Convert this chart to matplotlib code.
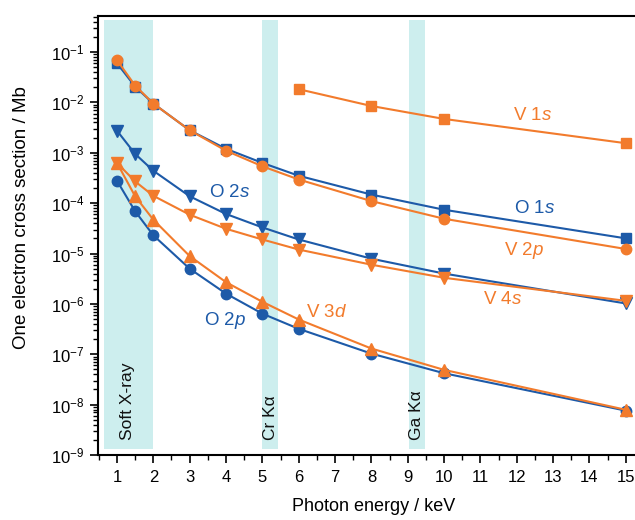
import matplotlib
matplotlib.use("Agg")
import matplotlib.pyplot as plt
from matplotlib.ticker import LogLocator, MultipleLocator, LogFormatterSciNotation, NullFormatter

plt.rcParams['font.family'] = ['Liberation Sans', 'DejaVu Sans']
plt.rcParams['mathtext.fontset'] = 'custom'
plt.rcParams['mathtext.rm'] = 'Liberation Sans'
plt.rcParams['mathtext.it'] = 'Liberation Sans:italic'

# Photon energies (keV)
energy = [1, 1.5, 2, 3, 4, 5, 6, 8, 10, 15]
energy_v1s = [6, 8, 10, 15]

# Cross sections (Mb)
o1s = [0.060, 0.0206, 0.0095, 0.0028, 0.0012, 6.3e-4, 3.5e-4, 1.48e-4, 7.4e-5, 2.0e-5]
v2p = [0.069, 0.0216, 0.0095, 0.0028, 0.0011, 5.4e-4, 2.95e-4, 1.10e-4, 4.9e-5, 1.23e-5]
v1s = [0.0183, 0.0085, 0.0047, 0.00155]
o2s = [2.75e-3, 9.5e-4, 4.4e-4, 1.37e-4, 6.1e-5, 3.3e-5, 1.9e-5, 7.9e-6, 4.0e-6, 1.02e-6]
v4s = [6.3e-4, 2.7e-4, 1.4e-4, 5.9e-5, 3.1e-5, 1.9e-5, 1.2e-5, 6.0e-6, 3.3e-6, 1.15e-6]
v3d = [6.3e-4, 1.37e-4, 4.7e-5, 8.9e-6, 2.7e-6, 1.1e-6, 4.9e-7, 1.3e-7, 4.9e-8, 7.9e-9]
o2p = [2.79e-4, 6.9e-5, 2.3e-5, 5.0e-6, 1.6e-6, 6.4e-7, 3.2e-7, 1.03e-7, 4.2e-8, 7.6e-9]

# Shaded bands (keV) and their labels
bands = [(0.64, 1.98), (5.0, 5.44), (9.03, 9.47)]
band_labels = ["Soft X-ray", "Cr K\u03b1", "Ga K\u03b1"]
band_label_x = [1.29, 5.22, 9.25]

# Curve labels: (text, x, y, colour key)
curve_labels = [
    (r'O 2$\it{s}$', 4.1, 1.6e-4, 'b'),
    (r'V 1$\it{s}$', 12.44, 5.4e-3, 'o'),
    (r'O 1$\it{s}$', 12.48, 8.0e-5, 'b'),
    (r'V 2$\it{p}$', 12.2, 1.15e-5, 'o'),
    (r'V 4$\it{s}$', 11.6, 1.2e-6, 'o'),
    (r'V 3$\it{d}$', 6.76, 6.7e-7, 'o'),
    (r'O 2$\it{p}$', 3.97, 4.7e-7, 'b'),
]

blue = '#1d5aa8'
orange = '#f27b2c'
band_color = '#cdeeee'
cmap = {'b': blue, 'o': orange}

fig = plt.figure(figsize=(6.35, 5.2), dpi=100)
ax = fig.add_axes([98/635, 1-455/520, (644-98)/635, (455-16)/520])
ax.set_yscale('log')
ax.set_xlim(0.478, 15.5)
ax.set_ylim(1e-9, 0.52)

for (x0, x1) in bands:
    ax.fill_between([x0, x1], [1.32e-9, 1.32e-9], [0.43, 0.43], color=band_color, lw=0, zorder=0)
for lab, bx in zip(band_labels, band_label_x):
    ax.text(bx, 2.0e-9, lab, rotation=90, ha='center', va='bottom', fontsize=12.5, color='#111111', zorder=1)

lw = 1.5
ax.plot(energy, o1s, '-s', color=blue, lw=lw, ms=6.5, zorder=3)
ax.plot(energy, o2s, '-v', color=blue, lw=lw, ms=8, zorder=3)
ax.plot(energy, o2p, '-o', color=blue, lw=lw, ms=7.5, zorder=3)
ax.plot(energy, v2p, '-o', color=orange, lw=lw, ms=7.5, zorder=4)
ax.plot(energy_v1s, v1s, '-s', color=orange, lw=lw, ms=6.5, zorder=4)
ax.plot(energy, v4s, '-v', color=orange, lw=lw, ms=8, zorder=4)
ax.plot(energy, v3d, '-^', color=orange, lw=lw, ms=8, zorder=4)

for txt, tx, ty, c in curve_labels:
    ax.text(tx, ty, txt, color=cmap[c], fontsize=13.5, ha='center', va='center', zorder=5)

ax.xaxis.set_major_locator(MultipleLocator(1))
ax.xaxis.set_minor_locator(MultipleLocator(0.5))
ax.yaxis.set_major_locator(LogLocator(base=10, numticks=20))
ax.yaxis.set_minor_locator(LogLocator(base=10, subs=range(2, 10), numticks=20))
ax.yaxis.set_major_formatter(LogFormatterSciNotation())
ax.yaxis.set_minor_formatter(NullFormatter())
ax.tick_params(axis='both', which='major', direction='out', length=6, width=1.2, labelsize=12)
ax.tick_params(axis='both', which='minor', direction='out', length=3.5, width=1.0)
ax.tick_params(axis='x', which='major', pad=5)
for s in ax.spines.values():
    s.set_linewidth(1.5)

ax.set_xlabel('Photon energy / keV', fontsize=13)
ax.set_ylabel('One electron cross section / Mb', fontsize=13.5)
ax.xaxis.set_label_coords(0.504, -0.098)
ax.yaxis.set_label_coords(-0.125, 0.541)

fig.savefig('out.png', dpi=100)
